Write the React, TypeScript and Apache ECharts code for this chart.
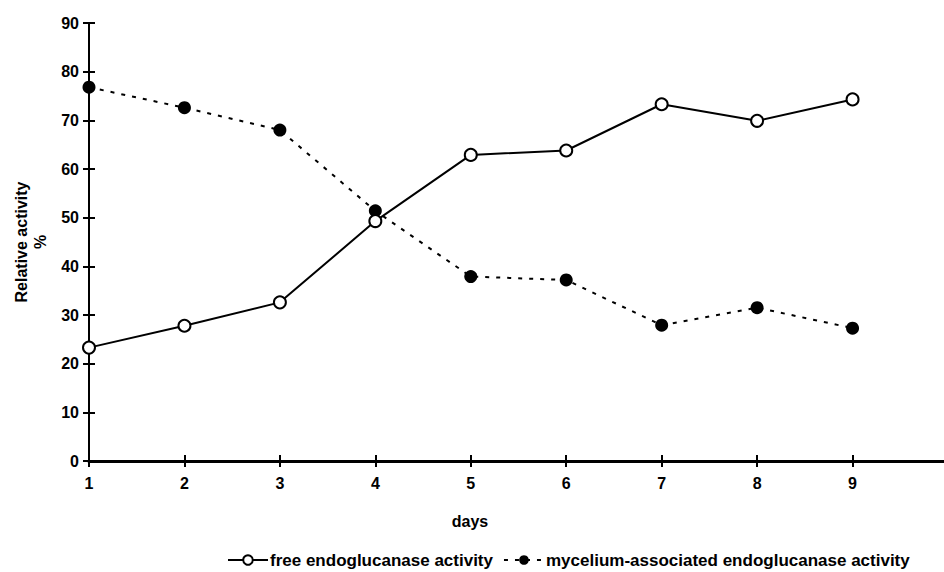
import React, { useEffect, useRef } from "react";
import * as echarts from "echarts";

const days = [1, 2, 3, 4, 5, 6, 7, 8, 9];
const freeActivity = [23.3, 27.8, 32.6, 49.3, 62.9, 63.8, 73.3, 69.9, 74.3];
const myceliumActivity = [76.8, 72.6, 68.0, 51.4, 37.9, 37.2, 27.9, 31.5, 27.3];
const seriesNames = [
  "free endoglucanase activity",
  "mycelium-associated endoglucanase activity",
];
const yAxisTitle = "Relative activity\n%";
const xAxisTitle = "days";

const FONT = "'Liberation Sans', Arial, sans-serif";

export default function App() {
  const ref = useRef<HTMLDivElement>(null);
  useEffect(() => {
    if (!ref.current) return;
    document.body.style.margin = "0";
    const chart = echarts.init(ref.current, null, { renderer: "svg" });
    const labelStyle = {
      color: "#000",
      fontFamily: FONT,
      fontWeight: "bold" as const,
      fontSize: 16,
    };
    chart.setOption({
      animation: false,
      backgroundColor: "#fff",
      grid: {
        left: 89,
        right: -4,
        top: 23,
        bottom: 111,
        outerBoundsMode: "none",
        containLabel: false,
      },
      legend: {
        left: 227,
        top: 551,
        padding: 0,
        itemWidth: 40,
        itemHeight: 12,
        itemGap: 10,
        textStyle: { ...labelStyle, fontSize: 17, lineHeight: 18, padding: [0, 0, 0, -3] },
        data: seriesNames,
      },
      xAxis: [
        {
          type: "value",
          min: 1,
          max: 10,
          interval: 1,
          axisLine: { show: true, lineStyle: { color: "#000", width: 3 } },
          axisTick: { show: true, length: 6, lineStyle: { color: "#000", width: 2 } },
          axisLabel: {
            ...labelStyle,
            margin: 14,
            formatter: (v: number) => (v >= 10 ? "" : String(v)),
          },
          splitLine: { show: false },
        },
        {
          type: "value",
          min: 1,
          max: 10,
          interval: 1,
          position: "bottom",
          axisLine: { show: false },
          axisTick: { show: true, inside: true, length: 6, lineStyle: { color: "#000", width: 2 } },
          axisLabel: { show: false },
          splitLine: { show: false },
        },
      ],
      yAxis: [
        {
          type: "value",
          min: 0,
          max: 90,
          interval: 10,
          name: yAxisTitle,
          nameLocation: "middle",
          nameGap: 36,
          nameRotate: 90,
          nameTextStyle: { ...labelStyle, fontSize: 16, lineHeight: 19 },
          axisLine: { show: true, lineStyle: { color: "#000", width: 2 } },
          axisTick: { show: true, length: 6, lineStyle: { color: "#000", width: 2 } },
          axisLabel: { ...labelStyle, margin: 10 },
          splitLine: { show: false },
        },
        {
          type: "value",
          min: 0,
          max: 90,
          interval: 10,
          position: "left",
          axisLine: { show: false },
          axisTick: { show: true, inside: true, length: 6, lineStyle: { color: "#000", width: 2 } },
          axisLabel: { show: false },
          splitLine: { show: false },
        },
      ],
      graphic: [
        {
          type: "text",
          x: 470,
          y: 521,
          style: {
            text: xAxisTitle,
            fill: "#000",
            font: `bold 16px ${FONT}`,
            textAlign: "center",
            textVerticalAlign: "middle",
          },
        },
      ],
      series: [
        {
          name: seriesNames[0],
          type: "line",
          xAxisIndex: 0,
          yAxisIndex: 0,
          data: days.map((d, i) => [d, freeActivity[i]]),
          symbol: "circle",
          symbolSize: 12,
          z: 3,
          lineStyle: { color: "#000", width: 2, type: "solid" },
          itemStyle: { color: "#fff", borderColor: "#000", borderWidth: 2 },
        },
        {
          name: seriesNames[1],
          type: "line",
          xAxisIndex: 0,
          yAxisIndex: 0,
          data: days.map((d, i) => [d, myceliumActivity[i]]),
          symbol: "circle",
          symbolSize: 13,
          z: 2,
          lineStyle: { color: "#000", width: 2, type: [4, 7] },
          itemStyle: { color: "#000", borderColor: "#000", borderWidth: 0 },
        },
      ],
    });
    return () => chart.dispose();
  }, []);
  return (
    <div
      ref={ref}
      style={{ position: "absolute", left: 0, top: 0, width: 944, height: 572 }}
    />
  );
}
